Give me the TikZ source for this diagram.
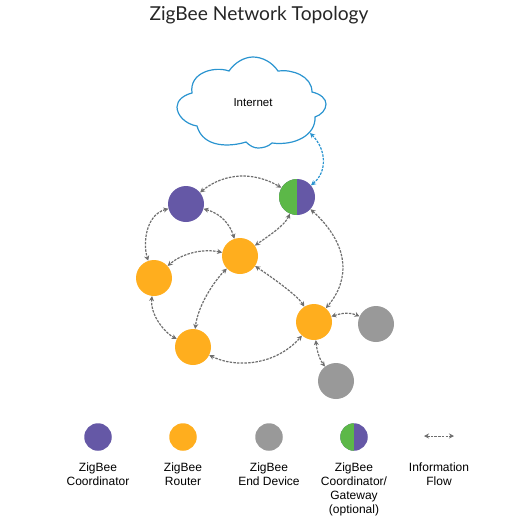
\documentclass[tikz,border=0pt]{standalone}
\usepackage{fontspec}
\usetikzlibrary{arrows.meta}
\setmainfont{Liberation Sans}
\newfontfamily\titlefont{Lato}
\definecolor{zbpurple}{HTML}{6558A6}
\definecolor{zborange}{HTML}{FFAE1E}
\definecolor{zbgrey}{HTML}{999999}
\definecolor{zbgreen}{HTML}{5CB848}
\definecolor{zbblue}{HTML}{2A94D0}
\definecolor{zbflow}{HTML}{6E6E6E}
\tikzset{
  dev/.style={circle, inner sep=0pt, minimum size=36pt},
  legdev/.style={circle, inner sep=0pt, minimum size=27.5pt},
  gatewayfill/.style={fill=zbpurple, path picture={\fill[zbgreen] (path picture bounding box.south west) rectangle (path picture bounding box.north);}},
  flow/.style={{Stealth[length=5pt,width=5pt]}-{Stealth[length=5pt,width=5pt]}, zbflow, line width=1.2pt, dash pattern=on 2.5pt off 1.2pt},
  uplink/.style={flow, zbblue},
  leglabel/.style={align=center, font=\fontsize{12}{14}\selectfont, anchor=north}
}
\begin{document}
\begin{tikzpicture}[x=1pt, y=-1pt]
  \useasboundingbox (0,0) rectangle (530,520);
  % Title
  \node[font=\titlefont\fontsize{19.2}{22}\selectfont, text=black!85] (title) at (259,15) {ZigBee Network Topology};
  % Cloud
  \draw[zbblue, line width=1.2pt] (229,71) .. controls (235,62) and (245,57) .. (253,57)
    .. controls (262,57) and (272,62) .. (278,71)
    .. controls (292,69) and (312,76) .. (312,92)
    .. controls (321,94) and (326,99) .. (326,104)
    .. controls (326,110) and (321,115) .. (315,117)
    .. controls (316,135) and (295,146) .. (272,143)
    .. controls (268,147) and (262,148) .. (258,148)
    .. controls (254,148) and (250,146) .. (246,142)
    .. controls (230,147) and (203,148) .. (197,126)
    .. controls (185,124) and (177,115) .. (177,107)
    .. controls (177,100) and (184,95) .. (192,93)
    .. controls (189,72) and (215,66) .. cycle;
  \node[font=\fontsize{11.5}{14}\selectfont] (internet) at (253,103) {Internet};
  \coordinate (cloudport) at (310,133);
  % Network devices
  \node[dev, fill=zbpurple] (coord) at (186,204) {};
  \node[dev, gatewayfill] (gw) at (297,197) {};
  \node[dev, fill=zborange] (rcenter) at (240,256) {};
  \node[dev, fill=zborange] (rleft) at (154,278) {};
  \node[dev, fill=zborange] (rbottom) at (193,347) {};
  \node[dev, fill=zborange] (rright) at (314,322) {};
  \node[dev, fill=zbgrey] (endright) at (376,324) {};
  \node[dev, fill=zbgrey] (endbottom) at (336,381) {};
  % Information flows
  \draw[uplink] (gw) .. controls (327,172) and (327,150) .. (cloudport);
  \draw[flow] (coord) .. controls (225,172) and (255,172) .. (gw);
  \draw[flow] (coord) .. controls (222,214) and (230,225) .. (rcenter);
  \draw[flow] (gw) .. controls (285,225) and (270,235) .. (rcenter);
  \draw[flow] (coord) .. controls (145,215) and (143,245) .. (rleft);
  \draw[flow] (rcenter) .. controls (200,248) and (180,255) .. (rleft);
  \draw[flow] (rleft) .. controls (150,315) and (165,333) .. (rbottom);
  \draw[flow] (rcenter) .. controls (215,280) and (198,305) .. (rbottom);
  \draw[flow] (rcenter) .. controls (270,276) and (297,295) .. (rright);
  \draw[flow] (gw) .. controls (350,245) and (350,280) .. (rright);
  \draw[flow] (rbottom) .. controls (235,368) and (275,366) .. (rright);
  \draw[flow] (rright) .. controls (342,313) and (350,312) .. (endright);
  \draw[flow] (rright) .. controls (317,352) and (320,360) .. (endbottom);
  % Legend
  \node[legdev, fill=zbpurple] (legcoord) at (98,437) {};
  \node[legdev, fill=zborange] (legrouter) at (183,437) {};
  \node[legdev, fill=zbgrey] (legend) at (269,437) {};
  \node[legdev, gatewayfill] (leggw) at (354,437) {};
  \coordinate (flowa) at (424,436);
  \coordinate (flowb) at (454,436);
  \draw[flow, line width=0.9pt] (flowa) -- (flowb);
  \node[leglabel] (txtcoord) at (98,459) {ZigBee\\Coordinator};
  \node[leglabel] (txtrouter) at (183,459) {ZigBee\\Router};
  \node[leglabel] (txtend) at (269,459) {ZigBee\\End Device};
  \node[leglabel] (txtgw) at (354,459) {ZigBee\\Coordinator/\\Gateway\\(optional)};
  \node[leglabel] (txtflow) at (439,459) {Information\\Flow};
\end{tikzpicture}
\end{document}
